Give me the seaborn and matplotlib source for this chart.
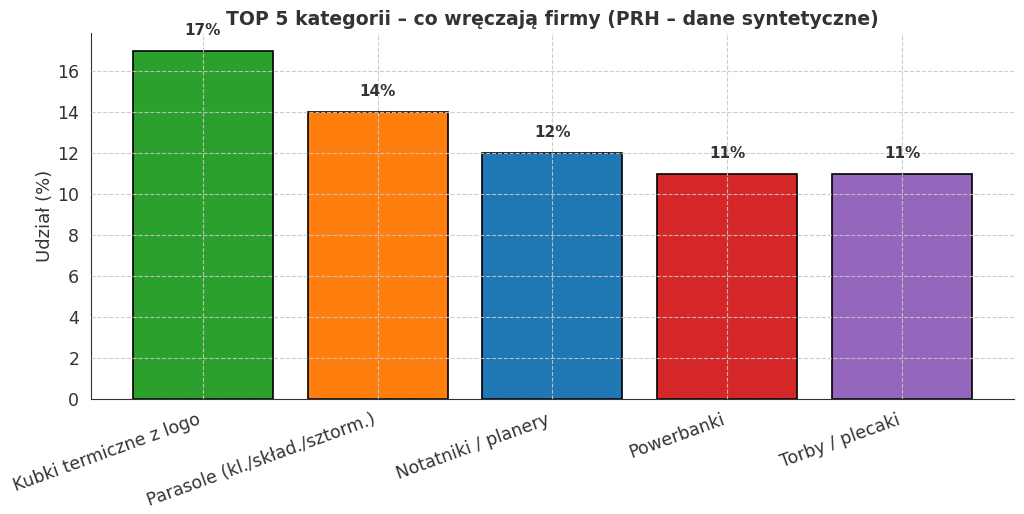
import pandas as pd
import matplotlib
matplotlib.use("Agg")
import matplotlib.pyplot as plt
import seaborn as sns

categories = ["Kubki termiczne z logo", "Parasole (kl./skład./sztorm.)",
              "Notatniki / planery", "Powerbanki", "Torby / plecaki"]
shares = [17, 14, 12, 11, 11]
colors = ["#2ca02c", "#ff7f0e", "#1f77b4", "#d62728", "#9467bd"]

df = pd.DataFrame({"kategoria": categories, "udzial": shares})

sns.set_style("white")
plt.rcParams["font.family"] = ["DejaVu Sans"]

fig, ax = plt.subplots(figsize=(10.24, 5.14), dpi=100)
sns.barplot(data=df, x="kategoria", y="udzial", hue="kategoria",
            palette=colors, legend=False, edgecolor="black", linewidth=1.2,
            width=0.8, saturation=1, ax=ax)

for i, v in enumerate(shares):
    ax.text(i, v + 1, f"{v}%", ha="center", va="center",
            fontsize=11, fontweight="bold", color="#333333")

ax.set_ylim(0, 17.85)
ax.set_xlim(-0.638, 4.638)
ax.set_title("TOP 5 kategorii – co wręczają firmy (PRH – dane syntetyczne)",
             fontsize=13.6, fontweight="bold", color="#333333", pad=6)
ax.set_xlabel("")
ax.set_ylabel("Udział (%)", fontsize=13, color="#333333", labelpad=2)
ax.tick_params(axis="y", labelsize=12.5, colors="#333333", length=5)
ax.tick_params(axis="x", labelsize=12.5, colors="#333333", length=5)
plt.setp(ax.get_xticklabels(), rotation=20, ha="right")

ax.grid(True, linestyle="--", color="#c8c8c8", linewidth=0.8, alpha=0.9)
ax.set_axisbelow(False)
sns.despine(ax=ax)
for s in ["left", "bottom"]:
    ax.spines[s].set_color("#333333")

plt.subplots_adjust(left=0.089, right=0.99, top=0.935, bottom=0.224)
fig.savefig("out.png", dpi=100)
